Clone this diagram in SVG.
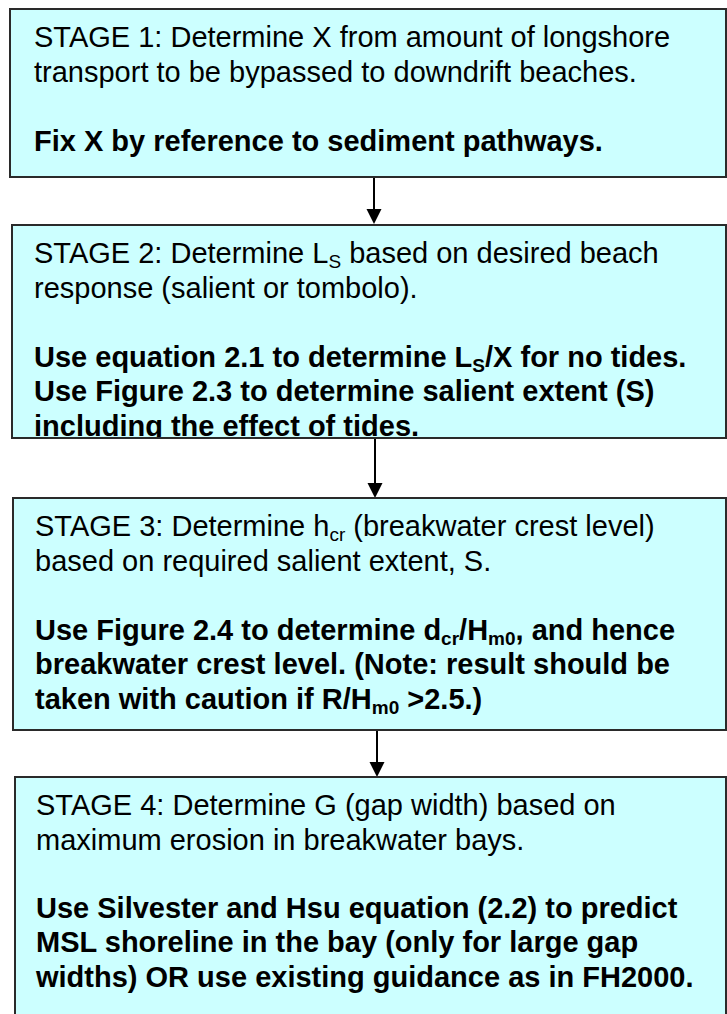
<svg xmlns="http://www.w3.org/2000/svg" width="727" height="1014" viewBox="0 0 727 1014">
<style>
.box{fill:#CCFFFF;stroke:#2a2a2a;stroke-width:2}
.t{font-family:"Liberation Sans",Arial,sans-serif;font-size:29px;fill:#000}
.b{font-weight:bold}
.sub{font-size:19px}
.conn{stroke:#000;stroke-width:2;fill:none}
.head{fill:#000}
</style>
<defs>
<clipPath id="c2"><rect x="0" y="225" width="727" height="212"/></clipPath>
</defs>
<rect width="727" height="1014" fill="#fff"/>
<g id="connectors">
<line class="conn" x1="374" y1="177" x2="374" y2="210"/>
<path class="head" d="M366.5,209 L381.5,209 L374,224 Z"/>
<line class="conn" x1="375" y1="438" x2="375" y2="484"/>
<path class="head" d="M367.5,483 L382.5,483 L375,498 Z"/>
<line class="conn" x1="377" y1="730" x2="377" y2="763"/>
<path class="head" d="M369.5,762 L384.5,762 L377,777 Z"/>
</g>
<g id="stage1">
<rect class="box" x="10" y="9" width="716" height="168"/>
<text class="t" x="34" y="47">STAGE 1: Determine X from amount of longshore</text>
<text class="t" x="34" y="81.5">transport to be bypassed to downdrift beaches.</text>
<text class="t b" x="34" y="151">Fix X by reference to sediment pathways.</text>
</g>
<g id="stage2">
<rect class="box" x="12" y="225" width="714" height="213"/>
<g clip-path="url(#c2)">
<text class="t" x="34" y="263">STAGE 2: Determine L<tspan class="sub" dy="5">S</tspan><tspan dy="-5"> based on desired beach</tspan></text>
<text class="t" x="34" y="297.5">response (salient or tombolo).</text>
<text class="t b" x="34" y="366.5">Use equation 2.1 to determine L<tspan class="sub" dy="5">S</tspan><tspan dy="-5">/X for no tides.</tspan></text>
<text class="t b" x="34" y="401">Use Figure 2.3 to determine salient extent (S)</text>
<text class="t b" x="34" y="435.5">including the effect of tides.</text>
</g>
</g>
<g id="stage3">
<rect class="box" x="13" y="498" width="713" height="232"/>
<text class="t" x="35" y="536">STAGE 3: Determine h<tspan class="sub" dy="5">cr</tspan><tspan dy="-5"> (breakwater crest level)</tspan></text>
<text class="t" x="35" y="570.5">based on required salient extent, S.</text>
<text class="t b" x="35" y="639.5">Use Figure 2.4 to determine d<tspan class="sub" dy="5">cr</tspan><tspan dy="-5">/H</tspan><tspan class="sub" dy="5">m0</tspan><tspan dy="-5">, and hence</tspan></text>
<text class="t b" x="35" y="674">breakwater crest level. (Note: result should be</text>
<text class="t b" x="35" y="708.5">taken with caution if R/H<tspan class="sub" dy="5">m0</tspan><tspan dy="-5"> &gt;2.5.)</tspan></text>
</g>
<g id="stage4">
<rect class="box" x="15" y="777" width="711" height="260"/>
<text class="t" x="36" y="815">STAGE 4: Determine G (gap width) based on</text>
<text class="t" x="36" y="849.5">maximum erosion in breakwater bays.</text>
<text class="t b" x="36" y="917.5">Use Silvester and Hsu equation (2.2) to predict</text>
<text class="t b" x="36" y="952">MSL shoreline in the bay (only for large gap</text>
<text class="t b" x="36" y="986.5">widths) OR use existing guidance as in FH2000.</text>
</g>
</svg>
